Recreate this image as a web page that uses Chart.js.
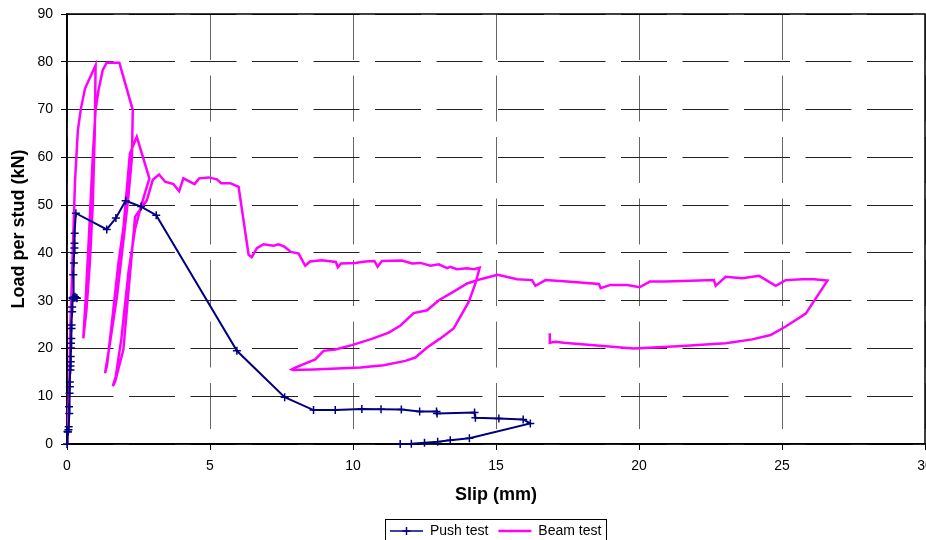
<!DOCTYPE html>
<html><head><meta charset="utf-8">
<script src="https://cdn.jsdelivr.net/npm/chart.js@4.4.0/dist/chart.umd.min.js"></script>
<style>html,body{margin:0;padding:0;background:#fff;overflow:hidden}</style>
</head><body>
<canvas id="c" width="926" height="540"></canvas>
<script>
// ---- data ----
const seriesNames = ['Push test', 'Beam test'];
const xTicks = [0, 5, 10, 15, 20, 25, 30];
const yTicks = [0, 10, 20, 30, 40, 50, 60, 70, 80, 90];

const pushSlip = [0, 0.02, 0.05, 0.03, 0.06, 0.08, 0.07, 0.09, 0.1, 0.1, 0.12, 0.12, 0.13, 0.13, 0.14, 0.14, 0.15, 0.16, 0.16, 0.18, 0.18, 0.2, 0.25, 0.32, 0.35, 0.28, 0.22, 0.22, 0.24, 0.25, 0.26, 0.26, 0.27, 0.31, 1.39, 1.71, 2.05, 2.59, 3.12, 5.94, 7.61, 8.62, 9.38, 10.31, 10.98, 11.69, 12.33, 12.92, 12.94, 14.25, 14.28, 15.1, 15.95, 16.2, 14.07, 13.4, 12.96, 12.5, 12.04, 11.65];
const pushLoad = [0, 2.6, 3.0, 2.5, 3.6, 6.4, 7.8, 10.6, 12.0, 13.0, 15.5, 16.3, 17.2, 18.3, 20.1, 21.1, 22.1, 24.2, 24.9, 27.7, 28.7, 30.4, 30.6, 30.6, 30.5, 30.8, 30.7, 35.4, 37.9, 40.0, 41.0, 42.0, 44.1, 48.3, 44.9, 47.3, 50.9, 49.7, 47.9, 19.5, 9.8, 7.1, 7.1, 7.3, 7.25, 7.2, 6.8, 6.8, 6.4, 6.6, 5.5, 5.35, 5.15, 4.3, 1.2, 0.8, 0.45, 0.27, 0.05, 0];

const beamSlip = [0, 0.08, 0.12, 0.2, 0.28, 0.38, 0.49, 0.63, 1.0, 0.97, 0.9, 0.8, 0.68, 0.57, 0.65, 0.78, 0.9, 1.0, 1.1, 1.25, 1.39, 1.83, 2.3, 2.27, 2.15, 2.0, 1.75, 1.5, 1.33, 1.4, 1.6, 1.8, 1.97, 2.2, 2.44, 2.88, 2.6, 2.38, 2.15, 1.9, 1.7, 1.6, 1.68, 1.97, 2.15, 2.38, 2.79, 3.0, 3.22, 3.43, 3.72, 3.92, 4.07, 4.46, 4.62, 4.95, 5.24, 5.39, 5.71, 6.0, 6.35, 6.46, 6.64, 6.87, 7.22, 7.4, 7.6, 7.83, 8.1, 8.33, 8.5, 8.91, 9.4, 9.47, 9.58, 10.08, 10.43, 10.75, 10.86, 11.01, 11.71, 12.06, 12.36, 12.71, 13.0, 13.29, 13.4, 13.64, 13.99, 14.22, 14.43, 14.28, 14.05, 13.52, 13.03, 12.59, 12.18, 11.83, 11.07, 10.26, 9.44, 8.62, 7.92, 7.86, 7.98, 8.68, 8.97, 9.38, 9.96, 10.66, 11.25, 11.66, 12.12, 12.59, 13.0, 13.52, 13.99, 14.46, 15.06, 15.74, 16.26, 16.38, 16.73, 17.49, 18.6, 18.66, 19.0, 19.59, 20.02, 20.38, 20.93, 21.51, 22.62, 22.68, 23.03, 23.61, 24.2, 24.78, 25.13, 25.71, 26.12, 26.59, 25.83, 25.13, 24.6, 23.96, 23.03, 21.51, 19.82, 18.31, 17.37, 17.08, 16.88, 16.88];
const beamLoad = [0, 12, 25, 40, 55, 65.7, 70.3, 74.4, 79.3, 65, 50, 38, 28, 22.1, 30, 45, 60, 70, 74, 78.3, 79.8, 79.8, 69.9, 60, 52, 44, 31, 21, 14.8, 16.5, 27, 38, 45, 60.8, 64.3, 55.6, 50, 45, 36, 22, 14, 12.1, 13, 19.7, 32, 47.6, 51, 55.3, 56.4, 54.9, 54.4, 52.9, 55.6, 54.4, 55.6, 55.8, 55.4, 54.6, 54.6, 53.8, 39.6, 39.1, 41.0, 41.8, 41.5, 41.8, 41.3, 40.2, 39.85, 37.3, 38.2, 38.45, 38.1, 37.0, 37.8, 37.9, 38.2, 38.3, 37.1, 38.3, 38.4, 37.8, 37.9, 37.3, 37.6, 36.8, 37.1, 36.6, 36.8, 36.6, 36.9, 33.6, 29.8, 24.2, 22.0, 20.2, 18.1, 17.4, 16.5, 16.0, 15.8, 15.6, 15.5, 15.6, 16.0, 17.7, 19.5, 19.8, 20.7, 22.0, 23.3, 24.8, 27.4, 28.0, 30.1, 31.9, 33.6, 34.5, 35.4, 34.5, 34.3, 33.1, 34.3, 34.0, 33.5, 32.6, 33.3, 33.3, 32.8, 34.0, 34.0, 34.1, 34.3, 33.1, 35.0, 34.7, 35.2, 33.1, 34.3, 34.5, 34.5, 34.2, 27.3, 24.6, 22.8, 21.9, 21.1, 20.5, 20.0, 20.7, 21.2, 21.4, 21.2, 23.2];

// ---- helpers / style ----
function pairs(xs, ys) { return xs.map((x, i) => ({ x: x, y: ys[i] })); }
const FONT = "'Liberation Sans', Arial, Helvetica, sans-serif";
const NAVY = '#000080';
const MAGENTA = '#FF00FF';
const PLOT_BOTTOM = 444;       // canvas y of the x axis
const LEGEND_FONT = 14;
const LEGEND_PAD = 10;
const LEGEND_PTS = 33;         // legend line length
const LEGEND_FIRST_X = 390;    // left end of the first legend line
const LEGEND_TEXT_Y = 531;     // centre line of legend text
const LEGEND_HEIGHT = LEGEND_FONT + LEGEND_PAD + 10;

const layoutPlugin = {
  id: 'layoutTweaks',
  beforeLayout(chart) {
    Object.values(chart.scales).forEach(s => {
      s.getPadding = () => ({ left: 0, top: 0, right: 0, bottom: 0 });
    });
  },
  afterLayout(chart) {
    const lg = chart.legend;
    if (!lg || !lg.lineWidths) return;
    const P = lg.options.labels.padding;
    const cx = (lg.left + P + lg.right - lg.lineWidths[0]) / 2;
    const dx = LEGEND_FIRST_X - cx;
    lg.left += dx; lg.right += dx;
    const h = lg.bottom - lg.top;
    lg.top = LEGEND_TEXT_Y - LEGEND_FONT / 2 - P;
    lg.bottom = lg.top + h;
  },
  beforeDatasetsDraw(chart) {
    const { ctx, chartArea: a } = chart;
    ctx.save();
    ctx.strokeStyle = '#000';
    ctx.lineWidth = 1.5;
    ctx.strokeRect(a.left, a.top, a.right - a.left, a.bottom - a.top);
    ctx.restore();
  },
  afterDraw(chart) {
    const lg = chart.legend;
    if (!lg || !lg.legendHitBoxes || !lg.legendHitBoxes.length) return;
    const hb = lg.legendHitBoxes;
    const ctx = chart.ctx;
    ctx.save();
    const l = hb[0].left - 5, r = hb[hb.length - 1].left + hb[hb.length - 1].width + 5;
    const t = LEGEND_TEXT_Y - 12.5;
    ctx.strokeStyle = '#000';
    ctx.lineWidth = 1;
    ctx.strokeRect(Math.round(l) + 0.5, Math.round(t) + 0.5, Math.round(r - l), 40);
    const cx = hb[0].left + LEGEND_PTS / 2, cy = LEGEND_TEXT_Y;
    ctx.strokeStyle = NAVY;
    ctx.lineWidth = 1.5;
    ctx.beginPath();
    ctx.moveTo(cx - 4, cy); ctx.lineTo(cx + 4, cy);
    ctx.moveTo(cx, cy - 4); ctx.lineTo(cx, cy + 4);
    ctx.stroke();
    ctx.restore();
  }
};

new Chart(document.getElementById('c'), {
  type: 'scatter',
  data: {
    datasets: [
      {
        label: seriesNames[0],
        data: pairs(pushSlip, pushLoad),
        showLine: true,
        borderColor: NAVY,
        backgroundColor: NAVY,
        borderWidth: 2,
        pointStyle: 'cross',
        pointRadius: 4,
        pointBorderWidth: 1.5,
        pointBorderColor: NAVY,
        pointHoverRadius: 4,
        tension: 0,
        clip: 6
      },
      {
        label: seriesNames[1],
        data: pairs(beamSlip, beamLoad),
        showLine: true,
        borderColor: MAGENTA,
        backgroundColor: MAGENTA,
        borderWidth: 2.5,
        pointRadius: 0,
        pointHoverRadius: 0,
        tension: 0
      }
    ]
  },
  options: {
    responsive: false,
    animation: false,
    events: [],
    devicePixelRatio: 1,
    layout: { autoPadding: false, padding: { left: 0, right: 1, top: 14, bottom: 0 } },
    plugins: {
      tooltip: { enabled: false },
      legend: {
        display: true,
        position: 'bottom',
        align: 'center',
        labels: {
          usePointStyle: true,
          pointStyle: 'line',
          pointStyleWidth: LEGEND_PTS,
          padding: LEGEND_PAD,
          color: '#000',
          font: { family: FONT, size: LEGEND_FONT }
        }
      }
    },
    scales: {
      x: {
        type: 'linear',
        min: xTicks[0],
        max: xTicks[xTicks.length - 1],
        afterBuildTicks(scale) { scale.ticks = xTicks.map(v => ({ value: v })); },
        afterFit(scale) { scale.paddingLeft = 0; scale.paddingRight = 0; scale.height = 540 - PLOT_BOTTOM - LEGEND_HEIGHT; },
        ticks: { color: '#000', padding: 8, font: { family: FONT, size: 14 }, maxRotation: 0 },
        grid: { color: '#666', lineWidth: 1, tickLength: 6, tickColor: '#000', tickWidth: 1, tickBorderDash: [] },
        border: { display: true, color: '#000', width: 1.5, dash: [46, 15.5] },
        title: { display: true, text: 'Slip (mm)', color: '#000', font: { family: FONT, size: 18, weight: 'bold' }, padding: { top: 0, bottom: 0 } }
      },
      y: {
        type: 'linear',
        min: yTicks[0],
        max: yTicks[yTicks.length - 1],
        afterBuildTicks(scale) { scale.ticks = yTicks.map(v => ({ value: v })); },
        afterFit(scale) { scale.paddingTop = 0; scale.paddingBottom = 0; scale.width = 67; },
        ticks: { color: '#000', padding: 8, font: { family: FONT, size: 14 } },
        grid: { color: '#222', lineWidth: 1, tickLength: 6, tickColor: '#000', tickWidth: 1, tickBorderDash: [] },
        border: { display: true, color: '#000', width: 1.5, dash: [46, 15.5] },
        title: { display: true, text: 'Load per stud (kN)', color: '#000', font: { family: FONT, size: 18, weight: 'bold' }, padding: { top: 8, bottom: 0 } }
      }
    }
  },
  plugins: [layoutPlugin]
});
</script>
</body></html>
